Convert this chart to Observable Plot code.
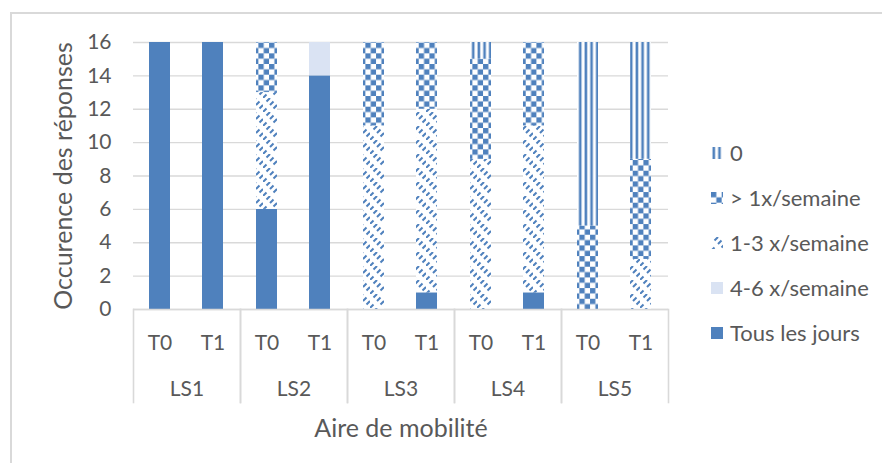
<!DOCTYPE html>
<html>
<head>
<meta charset="utf-8">
<script src="https://cdn.jsdelivr.net/npm/d3@7"></script>
<script src="https://cdn.jsdelivr.net/npm/@observablehq/plot@0.6"></script>
<style>
  html, body { margin: 0; padding: 0; background: #fff; }
  #wrap { position: relative; width: 882px; height: 463px; overflow: hidden; background: #fff; }
  #border { position: absolute; left: 10px; top: 12px; right: -10px; bottom: -10px;
            border-left: 2px solid #d9d9d9; border-top: 2px solid #d9d9d9; }
  #chart { position: absolute; left: 0; top: 0; }
  #legend { position: absolute; left: 711px; top: 130px; }
  #chart svg g[aria-label$="axis label"] { font-size: 25px; }
  div.lg-swatches { display: flex !important; flex-direction: column !important; align-items: flex-start !important; margin: 0 !important; min-height: 0 !important; }
  span.lg-swatch { display: flex !important; align-items: center !important; height: 45px !important; margin: 0 !important; }
  span.lg-swatch > svg { margin-right: 7px !important; }
</style>
</head>
<body>
<svg width="0" height="0" style="position:absolute">
  <defs>
    <pattern id="pVert" patternUnits="userSpaceOnUse" width="5.67" height="8">
      <rect width="5.67" height="8" fill="#ffffff"/>
      <rect x="1.5" y="0" width="2.6" height="8" fill="#4f81bd"/>
    </pattern>
    <pattern id="pCheck" patternUnits="userSpaceOnUse" width="10.67" height="10.67">
      <rect width="10.67" height="10.67" fill="#ffffff"/>
      <rect x="0" y="0" width="5.33" height="5.33" fill="#4f81bd"/>
      <rect x="5.33" y="5.33" width="5.34" height="5.34" fill="#4f81bd"/>
    </pattern>
    <pattern id="pDiag" patternUnits="userSpaceOnUse" width="14" height="14">
      <rect width="14" height="14" fill="#ffffff"/>
      <path d="M0,14L3.5,10.5M7,7L10.5,3.5M3.5,3.5L7,0M10.5,10.5L14,7" stroke="#4f81bd" stroke-width="2" fill="none"/>
    </pattern>
  </defs>
</svg>
<div id="wrap">
  <div id="border"></div>
  <div id="chart"></div>
  <div id="legend"></div>
</div>
<script>
const groups = ["LS1", "LS2", "LS3", "LS4", "LS5"];
const times = ["T0", "T1"];
// stacking order, bottom to top
const categories = ["Tous les jours", "4-6 x/semaine", "1-3 x/semaine", "> 1x/semaine", "0"];
// one value per bar: LS1 T0, LS1 T1, LS2 T0, LS2 T1, ... LS5 T1
const tousLesJours = [16, 16, 6, 14, 0, 1, 0, 1, 0, 0];
const quatreSix    = [0, 0, 0, 2, 0, 0, 0, 0, 0, 0];
const unTrois      = [0, 0, 7, 0, 11, 11, 9, 10, 0, 3];
const plusUne      = [0, 0, 3, 0, 5, 4, 6, 5, 5, 6];
const zero         = [0, 0, 0, 0, 0, 0, 1, 0, 11, 7];
const series = [tousLesJours, quatreSix, unTrois, plusUne, zero];
const yTicks = [0, 2, 4, 6, 8, 10, 12, 14, 16];

const fills = ["#4f81bd", "#dae3f3", "url(#pDiag)", "url(#pCheck)", "url(#pVert)"];

const data = [];
groups.forEach((g, gi) => times.forEach((t, ti) => {
  const i = gi * 2 + ti;
  categories.forEach((c, ci) => data.push({group: g, time: t, cat: c, value: series[ci][i]}));
}));

const chart = Plot.plot({
  width: 882,
  height: 463,
  marginLeft: 131,
  marginRight: 212,
  marginTop: 42,
  marginBottom: 154,
  style: {fontFamily: "Lato", color: "#595959", background: "transparent", overflow: "visible"},
  fx: {domain: groups, padding: 0},
  x: {domain: times, paddingInner: 0.6, paddingOuter: 0.3},
  y: {domain: [0, 16]},
  color: {domain: categories, range: fills},
  marks: [
    Plot.gridY(yTicks, {stroke: "#d9d9d9", strokeOpacity: 1, strokeWidth: 1.3}),
    Plot.barY(data, {fx: "group", x: "time", y: "value", fill: "cat", order: categories}),
    Plot.ruleY([0], {stroke: "#d9d9d9", strokeWidth: 1.6}),
    Plot.frame({anchor: "left", stroke: "#d9d9d9", strokeWidth: 1.6, insetTop: 267, insetBottom: -93}),
    Plot.frame({anchor: "right", stroke: "#d9d9d9", strokeWidth: 1.6, insetTop: 267, insetBottom: -93}),
    Plot.axisX({tickSize: 0, tickPadding: 26, fontSize: 21, label: null}),
    Plot.axisFx({anchor: "bottom", tickSize: 0, tickPadding: 72, fontSize: 21,
      label: "Aire de mobilité", labelAnchor: "center", labelOffset: 127}),
    Plot.axisY(yTicks, {tickSize: 0, tickPadding: 22, fontSize: 21,
      label: "Occurence des réponses", labelAnchor: "center", labelOffset: 79, labelArrow: "none"})
  ]
});
document.getElementById("chart").appendChild(chart);

const legendCats = categories.slice().reverse();
const legendFills = fills.slice().reverse();
const legend = Plot.legend({
  color: {type: "ordinal", domain: legendCats, range: legendFills},
  className: "lg",
  swatchSize: 12,
  style: {fontFamily: "Lato", fontSize: "22px", color: "#595959"}
});
document.getElementById("legend").appendChild(legend);
</script>
</body>
</html>
